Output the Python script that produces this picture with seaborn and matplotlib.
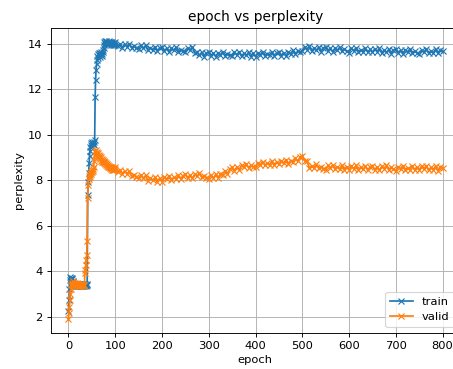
import matplotlib
matplotlib.use("Agg")
import matplotlib.pyplot as plt
import seaborn as sns

# Epoch index: every epoch for the first 100, then every 5th epoch
epochs = list(range(0, 100)) + list(range(100, 801, 5))

train_early = [
    2.25, 2.75, 3.20, 3.62, 3.74, 3.66, 3.72, 3.64, 3.70, 3.58,
    3.52, 3.46, 3.40, 3.45, 3.36, 3.42, 3.35, 3.44, 3.38, 3.33,
    3.41, 3.36, 3.45, 3.34, 3.39, 3.43, 3.35, 3.40, 3.33, 3.44,
    3.37, 3.42, 3.36, 3.40, 3.35, 3.43, 3.38, 3.41, 3.36, 3.40,
    3.44, 7.35, 7.90, 8.30, 8.75, 9.05, 9.30, 9.48, 9.55, 9.62,
    9.52, 9.66, 9.58, 9.64, 9.55, 9.68, 9.75, 11.65, 12.40, 12.85,
    13.10, 13.30, 13.45, 13.38, 13.55, 13.48, 13.60, 13.42, 13.58, 13.50,
    13.62, 13.47, 13.56, 13.64, 13.70, 13.82, 13.95, 14.05, 13.98, 14.10,
    14.02, 14.12, 14.04, 13.97, 14.08, 14.03, 14.11, 13.99, 14.06, 14.01,
    14.09, 13.96, 14.04, 13.98, 14.06, 13.95, 14.02, 13.94, 14.01, 13.96,
]
train_late = [
    14.08, 13.88, 13.99, 13.81, 13.98, 13.87, 14.00, 13.81, 13.89, 13.80,
    13.78, 13.93, 13.79, 13.93, 13.71, 13.83, 13.73, 13.86, 13.66, 13.82,
    13.86, 13.67, 13.80, 13.63, 13.81, 13.70, 13.84, 13.65, 13.74, 13.66,
    13.65, 13.82, 13.72, 13.85, 13.60, 13.63, 13.48, 13.62, 13.43, 13.59,
    13.64, 13.46, 13.59, 13.43, 13.61, 13.51, 13.65, 13.47, 13.56, 13.48,
    13.47, 13.63, 13.50, 13.65, 13.44, 13.57, 13.48, 13.62, 13.43, 13.59,
    13.43, 13.61, 13.51, 13.65, 13.47, 13.56, 13.48, 13.64, 13.46, 13.59,
    13.65, 13.47, 13.61, 13.45, 13.64, 13.55, 13.70, 13.54, 13.66, 13.62,
    13.68, 13.87, 13.74, 13.89, 13.67, 13.80, 13.71, 13.85, 13.65, 13.81,
    13.86, 13.67, 13.80, 13.64, 13.81, 13.71, 13.85, 13.66, 13.75, 13.67,
    13.61, 13.79, 13.69, 13.82, 13.64, 13.73, 13.64, 13.80, 13.62, 13.75,
    13.62, 13.78, 13.65, 13.79, 13.58, 13.71, 13.62, 13.75, 13.56, 13.72,
    13.77, 13.59, 13.71, 13.55, 13.73, 13.63, 13.77, 13.58, 13.67, 13.59,
    13.54, 13.72, 13.62, 13.76, 13.58, 13.67, 13.59, 13.75, 13.57, 13.70,
    13.66,
]

valid_early = [
    1.88, 2.15, 2.45, 2.75, 3.00, 3.22, 3.38, 3.50, 3.42, 3.55,
    3.40, 3.48, 3.36, 3.45, 3.38, 3.50, 3.34, 3.44, 3.39, 3.47,
    3.35, 3.42, 3.37, 3.46, 3.33, 3.41, 3.38, 3.44, 3.36, 3.40,
    3.34, 3.43, 3.37, 3.41, 3.38, 3.92, 4.07, 4.29, 4.51, 4.73,
    5.31, 7.22, 7.80, 8.05, 8.20, 8.12, 8.30, 8.22, 8.38, 8.28,
    8.45, 8.35, 8.50, 8.42, 8.60, 8.85, 9.10, 9.28, 9.20, 9.32,
    9.15, 9.25, 9.08, 9.18, 9.02, 9.12, 8.96, 9.06, 8.92, 9.00,
    8.86, 8.95, 8.82, 8.90, 8.78, 8.86, 8.74, 8.82, 8.70, 8.78,
    8.66, 8.74, 8.62, 8.70, 8.60, 8.66, 8.56, 8.64, 8.54, 8.60,
    8.52, 8.58, 8.49, 8.56, 8.47, 8.53, 8.45, 8.51, 8.44, 8.49,
]
valid_late = [
    8.58, 8.36, 8.45, 8.26, 8.41, 8.28, 8.39, 8.18, 8.24, 8.13,
    8.09, 8.23, 8.08, 8.21, 7.98, 8.09, 7.99, 8.12, 7.93, 8.09,
    7.94, 8.13, 8.04, 8.19, 8.02, 8.12, 8.05, 8.22, 8.06, 8.20,
    8.26, 8.09, 8.23, 8.08, 8.27, 8.17, 8.31, 8.12, 8.20, 8.10,
    8.07, 8.22, 8.09, 8.26, 8.09, 8.27, 8.23, 8.42, 8.28, 8.48,
    8.57, 8.42, 8.58, 8.45, 8.65, 8.57, 8.72, 8.55, 8.65, 8.58,
    8.58, 8.77, 8.67, 8.82, 8.65, 8.74, 8.67, 8.84, 8.66, 8.80,
    8.69, 8.86, 8.74, 8.90, 8.70, 8.86, 8.80, 8.98, 8.83, 9.02,
    9.08, 8.85, 8.85, 8.54, 8.64, 8.53, 8.69, 8.52, 8.60, 8.51,
    8.46, 8.65, 8.54, 8.67, 8.49, 8.59, 8.50, 8.65, 8.47, 8.60,
    8.47, 8.63, 8.50, 8.65, 8.44, 8.57, 8.48, 8.62, 8.43, 8.59,
    8.64, 8.46, 8.59, 8.43, 8.61, 8.51, 8.65, 8.47, 8.56, 8.48,
    8.42, 8.60, 8.50, 8.64, 8.46, 8.55, 8.47, 8.63, 8.45, 8.58,
    8.46, 8.62, 8.49, 8.64, 8.43, 8.56, 8.47, 8.61, 8.42, 8.58,
    8.55,
]

train = train_early + train_late
valid = valid_early + valid_late

series_names = ["train", "valid"]
series_colors = ["#1f77b4", "#ff7f0e"]

DPI = 82.5
W, H = 453, 369
fig = plt.figure(figsize=(W / DPI, H / DPI), dpi=DPI)
ax = fig.add_axes([50.7 / W, 36.3 / H, 409.2 / W, 305.0 / H])

for name, values, color in zip(series_names, [train, valid], series_colors):
    sns.lineplot(
        x=epochs, y=values, ax=ax, label=name, color=color,
        marker="x", markersize=6, markeredgecolor=color, markerfacecolor=color,
        markeredgewidth=1.0, linewidth=1.5, estimator=None, sort=False,
    )

ax.set_xlim(-38, 837)
ax.set_ylim(1.30, 14.70)
ax.set_xticks([0, 100, 200, 300, 400, 500, 600, 700, 800])
ax.set_yticks([2, 4, 6, 8, 10, 12, 14])
ax.grid(True, color="#b0b0b0", linewidth=0.8)
ax.set_title("epoch vs perplexity")
ax.set_xlabel("epoch")
ax.set_ylabel("perplexity")
ax.legend(loc="lower right")

fig.savefig("out.png", dpi=DPI)
